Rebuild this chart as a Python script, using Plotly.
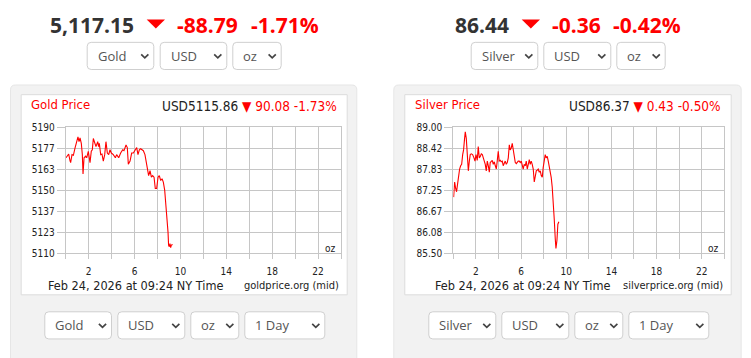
import plotly.graph_objects as go

W, H = 751, 358

# ---------------- data ----------------
gold_hours = [0.03, 0.14, 0.26, 0.37, 0.43, 0.55, 0.67, 0.81, 0.96, 1.07, 1.16, 1.25, 1.36, 1.45, 1.51,
              1.60, 1.74, 1.83, 1.97, 2.12, 2.23, 2.32, 2.41, 2.52, 2.64, 2.79, 2.87, 2.93, 3.05, 3.16,
              3.28, 3.40, 3.51, 3.63, 3.75, 3.86, 3.98, 4.15, 4.33, 4.44, 4.62, 4.79, 4.97, 5.08, 5.26,
              5.37, 5.46, 5.61, 5.75, 5.90, 6.04, 6.19, 6.30, 6.42, 6.53, 6.77, 6.91, 7.00, 7.12, 7.23,
              7.35, 7.47, 7.58, 7.70, 7.81, 7.93, 8.05, 8.16, 8.28, 8.40, 8.51, 8.63, 8.74, 8.86, 8.92,
              8.97, 9.03, 9.09, 9.15, 9.21, 9.32]
gold_prices = [5170.6, 5171.6, 5173.0, 5168.9, 5167.5, 5172.6, 5172.2, 5176.7, 5181.8, 5183.9, 5180.8,
               5183.2, 5179.8, 5172.6, 5160.3, 5170.6, 5171.6, 5170.6, 5174.7, 5167.5, 5174.7, 5175.7,
               5182.8, 5179.8, 5177.7, 5180.8, 5177.7, 5179.8, 5172.6, 5173.0, 5168.5, 5172.6, 5180.8,
               5173.6, 5172.6, 5175.7, 5173.6, 5172.6, 5170.6, 5172.6, 5170.6, 5173.6, 5175.7, 5175.1,
               5178.7, 5177.1, 5166.5, 5168.5, 5173.6, 5173.6, 5175.7, 5177.1, 5172.6, 5175.7, 5176.3,
               5175.1, 5172.6, 5168.5, 5163.4, 5159.3, 5162.4, 5158.3, 5159.3, 5158.3, 5151.1, 5151.1,
               5158.3, 5159.3, 5156.2, 5157.3, 5155.2, 5150.1, 5139.9, 5131.7, 5123.5, 5115.3, 5114.3,
               5116.3, 5113.7, 5115.3, 5115.7]

silver_hours = [0.03, 0.12, 0.21, 0.29, 0.38, 0.47, 0.56, 0.65, 0.74, 0.83, 0.91, 1.00, 1.06, 1.15, 1.24,
                1.33, 1.42, 1.50, 1.59, 1.71, 1.83, 1.92, 2.01, 2.12, 2.21, 2.30, 2.39, 2.48, 2.57, 2.65,
                2.74, 2.83, 2.92, 3.01, 3.10, 3.19, 3.27, 3.36, 3.45, 3.54, 3.63, 3.72, 3.81, 3.89, 3.98,
                4.07, 4.16, 4.25, 4.34, 4.42, 4.51, 4.60, 4.69, 4.78, 4.87, 4.96, 5.04, 5.13, 5.22, 5.31,
                5.40, 5.49, 5.58, 5.66, 5.75, 5.84, 5.93, 6.02, 6.11, 6.19, 6.28, 6.37, 6.46, 6.55, 6.64,
                6.73, 6.81, 6.90, 6.99, 7.08, 7.17, 7.26, 7.35, 7.43, 7.52, 7.61, 7.70, 7.79, 7.88, 7.96,
                8.05, 8.14, 8.23, 8.32, 8.41, 8.50, 8.58, 8.67, 8.76, 8.85, 8.94, 9.03, 9.09, 9.18, 9.26,
                9.35]
silver_prices = [87.06, 87.48, 87.30, 87.21, 87.43, 87.70, 87.84, 87.93, 87.97, 88.24, 88.37, 88.69, 88.87,
                 88.69, 88.33, 87.79, 88.06, 88.24, 88.26, 88.24, 88.15, 88.06, 88.24, 88.08, 88.46, 88.15,
                 88.19, 88.26, 88.24, 88.15, 88.06, 87.97, 87.79, 88.06, 87.93, 87.75, 88.02, 88.06, 88.08,
                 87.97, 88.04, 87.93, 87.84, 88.06, 88.33, 88.06, 88.08, 88.04, 88.06, 87.93, 87.99, 88.06,
                 87.97, 88.02, 88.15, 88.51, 88.37, 88.42, 88.55, 88.37, 88.24, 88.02, 87.99, 88.02, 88.06,
                 88.06, 88.02, 88.06, 87.97, 87.84, 87.97, 87.93, 88.06, 87.84, 87.97, 88.10, 87.97, 88.06,
                 87.97, 87.84, 87.48, 87.66, 87.79, 87.81, 87.84, 87.75, 87.79, 87.66, 87.61, 87.88, 88.10,
                 88.24, 88.15, 88.19, 88.06, 87.93, 87.79, 87.61, 87.34, 86.99, 86.45, 85.91, 85.64, 85.87,
                 86.31, 86.38]

x_tick_vals = [0, 2, 4, 6, 8, 10, 12, 14, 16, 18, 20, 22, 24]
x_tick_text = ["", "2", "", "6", "", "10", "", "14", "", "18", "", "22", ""]
gold_tick_vals = [5110, 5123.333, 5136.667, 5150, 5163.333, 5176.667, 5190]
gold_tick_text = ["5110", "5123", "5137", "5150", "5163", "5177", "5190"]
silver_tick_vals = [85.5, 86.0833, 86.6667, 87.25, 87.8333, 88.4167, 89.0]
silver_tick_text = ["85.50", "86.08", "86.67", "87.25", "87.83", "88.42", "89.00"]

# ---------------- helpers ----------------
def X(x):
    return x / W


def Y(y):
    return 1 - y / H


def rrect(x0, y0, x1, y1, r):
    return (f"M {X(x0+r)},{Y(y0)} L {X(x1-r)},{Y(y0)} Q {X(x1)},{Y(y0)} {X(x1)},{Y(y0+r)} "
            f"L {X(x1)},{Y(y1-r)} Q {X(x1)},{Y(y1)} {X(x1-r)},{Y(y1)} "
            f"L {X(x0+r)},{Y(y1)} Q {X(x0)},{Y(y1)} {X(x0)},{Y(y1-r)} "
            f"L {X(x0)},{Y(y0+r)} Q {X(x0)},{Y(y0)} {X(x0+r)},{Y(y0)} Z")


shapes = []
annotations = []

CHART_FONT = "DejaVu Sans Condensed, DejaVu Sans, Verdana, sans-serif"
UI_FONT = "Open Sans, sans-serif"
RED = "#ff0000"


def add_text(text, x, y, size, color, family, anchor="left", weight="normal"):
    annotations.append(dict(text=text, x=X(x), y=Y(y), xref="paper", yref="paper",
                            xanchor=anchor, yanchor="middle", showarrow=False,
                            font=dict(size=size, color=color, family=family, weight=weight)))


def add_dropdown(x0, x1, y0, y1, label):
    shapes.append(dict(type="path", path=rrect(x0 + 0.5, y0 + 0.5, x1 - 0.5, y1 - 0.5, 4),
                       xref="paper", yref="paper", fillcolor="#ffffff",
                       line=dict(color="#cfcfcf", width=1), layer="below"))
    cy = (y0 + y1) / 2
    add_text(label, x0 + 9, cy, 13, "#555555", UI_FONT)
    cx = x1 - 9.5
    shapes.append(dict(type="path",
                       path=f"M {X(cx-3.6)},{Y(cy-1.6)} L {X(cx)},{Y(cy+2.0)} L {X(cx+3.6)},{Y(cy-1.6)}",
                       xref="paper", yref="paper", line=dict(color="#444444", width=1.7), layer="above"))


def add_tri(x0, x1, y0, y1):
    shapes.append(dict(type="path",
                       path=f"M {X(x0)},{Y(y0)} L {X(x1)},{Y(y0)} L {X((x0+x1)/2)},{Y(y1)} Z",
                       xref="paper", yref="paper", fillcolor=RED, line=dict(width=0), layer="above"))


# ---------------- panels ----------------
for (px0, px1, bx0, bx1) in [(10, 357.3, 20.7, 347.7), (393.3, 741.7, 404.3, 731.7)]:
    shapes.append(dict(type="path", path=rrect(px0 + 0.5, 81.5, px1 - 0.5, 372, 5),
                       xref="paper", yref="paper", fillcolor="#f2f2f2",
                       line=dict(color="#e6e6e6", width=1), layer="below"))
    shapes.append(dict(type="rect", x0=X(bx0 + 0.5), x1=X(bx1 - 0.5), y0=Y(91.5), y1=Y(298),
                       xref="paper", yref="paper", fillcolor="#ffffff",
                       line=dict(color="#dcdcdc", width=1), layer="below"))

# ---------------- headers ----------------
HY = 19.5
HS = 21
add_text("5,117.15", 47.5, HY, HS, "#333333", UI_FONT, weight="bold")
add_tri(146.7, 165, 14, 23.3)
add_text("-88.79", 174.5, HY, HS, RED, UI_FONT, weight="bold")
add_text("-1.71%", 248.5, HY, HS, RED, UI_FONT, weight="bold")

add_text("86.44", 452.5, HY, HS, "#333333", UI_FONT, weight="bold")
add_tri(521.7, 540, 14, 23.3)
add_text("-0.36", 549.5, HY, HS, RED, UI_FONT, weight="bold")
add_text("-0.42%", 610.5, HY, HS, RED, UI_FONT, weight="bold")

# top dropdowns
add_dropdown(86.7, 154.3, 37, 66, "Gold")
add_dropdown(159.7, 227.3, 37, 66, "USD")
add_dropdown(232.3, 281.7, 37, 66, "oz")
add_dropdown(470.7, 538.3, 37, 66, "Silver")
add_dropdown(543.3, 611.3, 37, 66, "USD")
add_dropdown(616.3, 665.7, 37, 66, "oz")

# bottom dropdowns
add_dropdown(44.3, 112, 315, 344, "Gold")
add_dropdown(117.3, 185.3, 315, 344, "USD")
add_dropdown(190.3, 239.3, 315, 344, "oz")
add_dropdown(244.3, 325.3, 315, 344, "1 Day")
add_dropdown(428.3, 496.3, 315, 344, "Silver")
add_dropdown(501.3, 569.3, 315, 344, "USD")
add_dropdown(574.3, 623.3, 315, 344, "oz")
add_dropdown(628.3, 709.3, 315, 344, "1 Day")

# chart texts
add_text("Gold Price", 29.3, 102, 13, RED, CHART_FONT)
add_text("USD5115.86 <span style='color:#ff0000'>▼ 90.08 -1.73%</span>", 338.5, 103.5, 13.5, "#222222",
         CHART_FONT, anchor="right")
add_text("Silver Price", 413.3, 102, 13, RED, CHART_FONT)
add_text("USD86.37 <span style='color:#ff0000'>▼ 0.43 -0.50%</span>", 722.7, 103.5, 13.5, "#222222",
         CHART_FONT, anchor="right")

add_text("Feb 24, 2026 at 09:24 NY Time", 45.5, 288, 12.6, "#222222", CHART_FONT)
add_text("goldprice.org (mid)", 340.5, 288.5, 11, "#222222", CHART_FONT, anchor="right")
add_text("Feb 24, 2026 at 09:24 NY Time", 433, 288, 12.6, "#222222", CHART_FONT)
add_text("silverprice.org (mid)", 724.5, 288.5, 11, "#222222", CHART_FONT, anchor="right")

add_text("oz", 330, 250, 10, "#222222", CHART_FONT, anchor="center")
add_text("oz", 713.8, 250, 10, "#222222", CHART_FONT, anchor="center")

# ---------------- figure ----------------
fig = go.Figure()
fig.add_trace(go.Scatter(x=gold_hours, y=gold_prices, mode="lines", line=dict(color=RED, width=1.1),
                         xaxis="x", yaxis="y", hoverinfo="skip"))
fig.add_trace(go.Scatter(x=silver_hours, y=silver_prices, mode="lines", line=dict(color=RED, width=1.1),
                         xaxis="x2", yaxis="y2", hoverinfo="skip"))

GRID = "#c6c6c6"
TICKFONT = dict(family=CHART_FONT, size=10, color="#222222")
xcommon = dict(range=[0, 24], tickmode="array", tickvals=x_tick_vals, ticktext=x_tick_text,
               showgrid=True, gridcolor=GRID, gridwidth=1, showline=True, mirror=True, linecolor=GRID,
               zeroline=False, ticks="outside", ticklen=5, tickcolor=GRID, ticklabelstandoff=4,
               tickfont=TICKFONT, fixedrange=True)
ycommon = dict(tickmode="array", showgrid=True, gridcolor=GRID, gridwidth=1, showline=True, mirror=True,
               linecolor=GRID, zeroline=False, ticks="outside", ticklen=8, tickcolor=GRID,
               tickfont=TICKFONT, fixedrange=True)

ydom = [Y(255.3), Y(125)]
fig.update_layout(
    width=W, height=H, margin=dict(l=0, r=0, t=0, b=0),
    paper_bgcolor="#ffffff", plot_bgcolor="#ffffff", showlegend=False,
    xaxis=dict(domain=[X(65.7), X(341)], anchor="y", **xcommon),
    yaxis=dict(domain=ydom, anchor="x", range=[5110, 5190], tickvals=gold_tick_vals,
               ticktext=gold_tick_text, **ycommon),
    xaxis2=dict(domain=[X(453.3), X(724.3)], anchor="y2", **xcommon),
    yaxis2=dict(domain=ydom, anchor="x2", range=[85.5, 89.0], tickvals=silver_tick_vals,
                ticktext=silver_tick_text, **ycommon),
    shapes=shapes, annotations=annotations,
)

fig.write_html("out.html", config=dict(displayModeBar=False, staticPlot=True),
               post_script="document.body.style.margin='0';document.body.style.overflow='hidden';")
